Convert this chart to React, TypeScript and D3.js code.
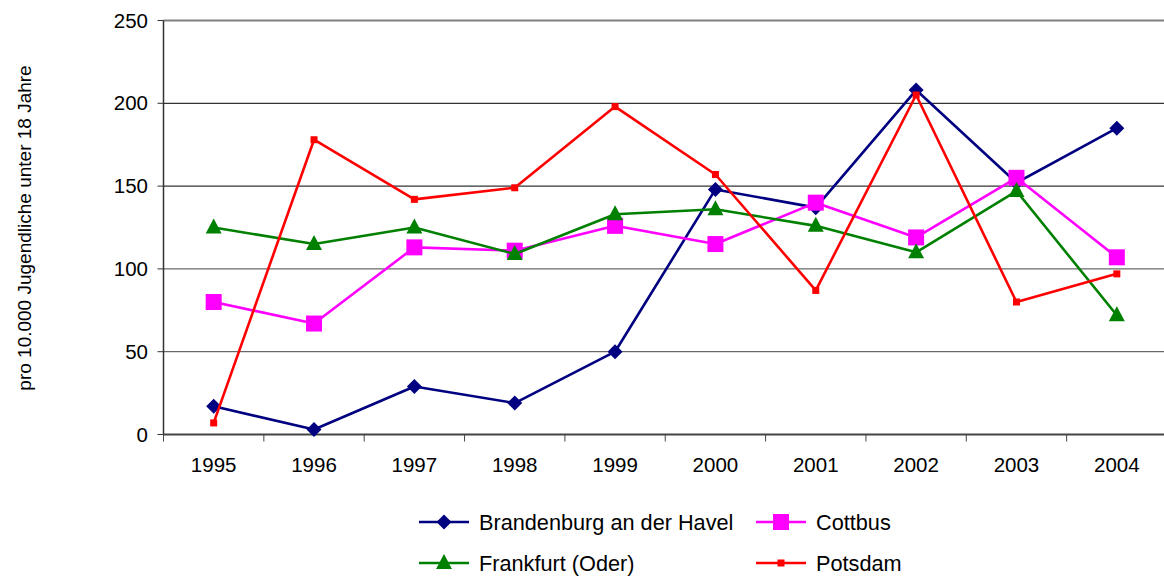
import React from 'react';
import * as d3 from 'd3';

const years = ['1995', '1996', '1997', '1998', '1999', '2000', '2001', '2002', '2003', '2004'];
const brandenburg = [17, 3, 29, 19, 50, 148, 137, 208, 152, 185];
const cottbus = [80, 67, 113, 111, 126, 115, 140, 119, 155, 107];
const frankfurt = [125, 115, 125, 109, 133, 136, 126, 110, 147, 72];
const potsdam = [7, 178, 142, 149, 198, 157, 87, 205, 80, 97];
const yTicks = [0, 50, 100, 150, 200, 250];

const seriesList = [
  { name: 'Brandenburg an der Havel', values: brandenburg, color: '#000080', marker: 'diamond' },
  { name: 'Cottbus', values: cottbus, color: '#FF00FF', marker: 'square' },
  { name: 'Frankfurt (Oder)', values: frankfurt, color: '#008000', marker: 'triangle' },
  { name: 'Potsdam', values: potsdam, color: '#FF0000', marker: 'small' },
];

const width = 1164;
const height = 576;
const margin = { top: 20.5, right: -3, bottom: 141.5, left: 163.5 };

function Marker({ type, color, x, y }: { type: string; color: string; x: number; y: number }) {
  if (type === 'diamond') {
    const r = 7.5;
    return <path d={`M${x},${y - r}L${x + r},${y}L${x},${y + r}L${x - r},${y}Z`} fill={color} />;
  }
  if (type === 'square') {
    return <rect x={x - 8} y={y - 8} width={16} height={16} fill={color} />;
  }
  if (type === 'triangle') {
    return <path d={`M${x},${y - 9}L${x + 8},${y + 6}L${x - 8},${y + 6}Z`} fill={color} />;
  }
  return <rect x={x - 3.5} y={y - 3.5} width={7} height={7} fill={color} />;
}

export default function App() {
  const x = d3
    .scaleBand()
    .domain(years)
    .range([margin.left, width - margin.right]);
  const y = d3
    .scaleLinear()
    .domain([0, 250])
    .range([height - margin.bottom, margin.top]);

  const cx = (d: string) => (x(d) || 0) + x.bandwidth() / 2;
  const line = d3
    .line<number>()
    .x((_, i) => cx(years[i]))
    .y((d) => y(d));

  const font = 'Arial, "Liberation Sans", sans-serif';
  const bottom = y(0);

  const legendPos = [
    { lx: 419, ly: 522 },
    { lx: 756, ly: 522 },
    { lx: 419, ly: 563 },
    { lx: 756, ly: 563 },
  ];

  return (
    <svg width={width} height={height} style={{ position: 'absolute', left: 0, top: 0, background: '#fff' }}>
      {yTicks.slice(1, -1).map((t) => (
        <line key={t} x1={margin.left} x2={width} y1={y(t)} y2={y(t)} stroke={t >= 150 ? '#000' : '#444'} strokeWidth={1} />
      ))}
      <line x1={margin.left} x2={width} y1={y(250)} y2={y(250)} stroke="#808080" strokeWidth={2} />
      <line x1={margin.left} x2={margin.left} y1={y(250)} y2={bottom} stroke="#333" strokeWidth={1.5} />
      <line x1={margin.left} x2={width} y1={bottom} y2={bottom} stroke="#444" strokeWidth={2} />

      {yTicks.map((t) => (
        <g key={t}>
          <line x1={margin.left - 6} x2={margin.left} y1={y(t)} y2={y(t)} stroke="#333" strokeWidth={1} />
          <text x={148} y={y(t)} dy="0.35em" textAnchor="end" fontFamily={font} fontSize={20.5} fill="#000">
            {t}
          </text>
        </g>
      ))}

      {years.map((yr) => (
        <g key={yr}>
          <line x1={x(yr) || 0} x2={x(yr) || 0} y1={bottom} y2={bottom + 7} stroke="#444" strokeWidth={1} />
          <text x={cx(yr)} y={465} dy="0.35em" textAnchor="middle" fontFamily={font} fontSize={20.5} fill="#000">
            {yr}
          </text>
        </g>
      ))}

      <text
        transform={`translate(24,${228}) rotate(-90)`}
        textAnchor="middle"
        dy="0.35em"
        fontFamily={font}
        fontSize={19}
        fill="#000"
      >
        pro 10.000 Jugendliche unter 18 Jahre
      </text>

      {seriesList.map((s) => (
        <g key={s.name}>
          <path d={line(s.values) || ''} fill="none" stroke={s.color} strokeWidth={2.6} strokeLinejoin="round" />
          {s.values.map((v, i) => (
            <Marker key={i} type={s.marker} color={s.color} x={cx(years[i])} y={y(v)} />
          ))}
        </g>
      ))}

      {seriesList.map((s, i) => {
        const p = legendPos[i];
        return (
          <g key={s.name}>
            <line x1={p.lx} x2={p.lx + 50} y1={p.ly} y2={p.ly} stroke={s.color} strokeWidth={2.6} />
            <Marker type={s.marker} color={s.color} x={p.lx + 25} y={p.ly} />
            <text x={p.lx + 60} y={p.ly} dy="0.35em" fontFamily={font} fontSize={21.7} fill="#000">
              {s.name}
            </text>
          </g>
        );
      })}
    </svg>
  );
}
